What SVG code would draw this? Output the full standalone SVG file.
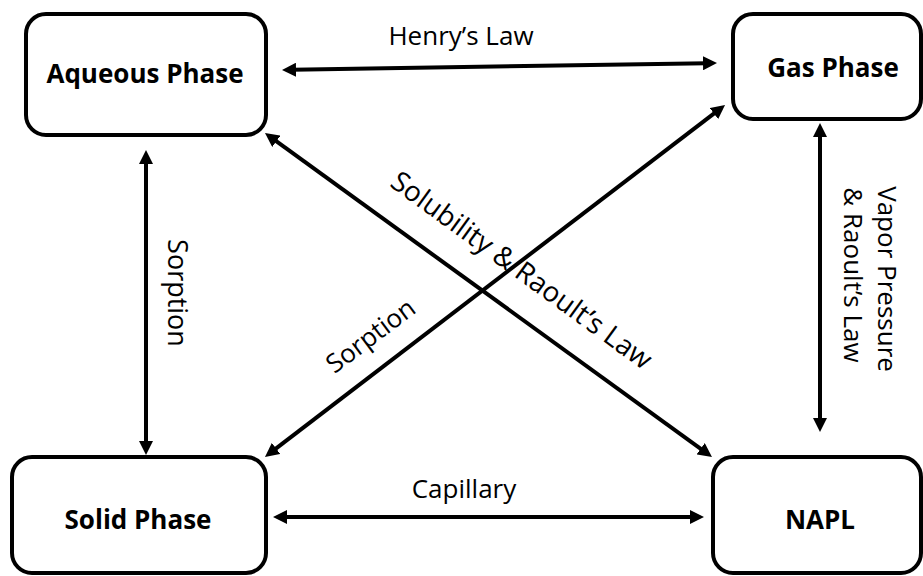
<svg xmlns="http://www.w3.org/2000/svg" width="923" height="576" viewBox="0 0 923 576">
<style>
.box{fill:#fff;stroke:#000;stroke-width:4}
.title{font-family:"Open Sans","Liberation Sans",sans-serif;font-weight:bold;font-size:26px;fill:#000;text-anchor:middle}
.lbl{font-family:"Open Sans","Liberation Sans",sans-serif;font-size:26px;fill:#000;text-anchor:middle}
.conn{stroke:#000;stroke-width:4;fill:none;marker-start:url(#ah);marker-end:url(#ah)}
</style>
<defs>
<marker id="ah" markerUnits="userSpaceOnUse" viewBox="0 0 14 14" markerWidth="14" markerHeight="14" refX="4" refY="7" orient="auto-start-reverse">
<path d="M0,0 L14,7 L0,14 z" fill="#000"/>
</marker>
</defs>
<rect width="923" height="576" fill="#fff"/>
<g id="connectors">
<line class="conn" x1="292" y1="69.8" x2="707" y2="63.2"/>
<line class="conn" x1="283" y1="517" x2="694" y2="517"/>
<line class="conn" x1="146" y1="160" x2="146" y2="445"/>
<line class="conn" x1="820" y1="133" x2="820" y2="422"/>
<line class="conn" x1="273.1" y1="138.9" x2="703.9" y2="451.1"/>
<line class="conn" x1="272.9" y1="450.9" x2="717.1" y2="111.1"/>
</g>
<g id="aqueous">
<rect class="box" x="26" y="14" width="240" height="121" rx="20"/>
<text class="title" x="145" y="83">Aqueous Phase</text>
</g>
<g id="gas">
<rect class="box" x="733" y="14" width="188" height="105" rx="20"/>
<text class="title" x="833" y="77">Gas Phase</text>
</g>
<g id="solid">
<rect class="box" x="12" y="457" width="254" height="116" rx="20"/>
<text class="title" x="138" y="529">Solid Phase</text>
</g>
<g id="napl">
<rect class="box" x="713" y="457" width="208" height="116" rx="20"/>
<text class="title" x="820" y="529">NAPL</text>
</g>
<g id="labels">
<text class="lbl" x="461" y="45">Henry’s Law</text>
<text class="lbl" x="464" y="498">Capillary</text>
<text class="lbl" style="font-size:27px" transform="translate(168,293) rotate(90)">Sorption</text>
<text class="lbl" transform="translate(878,279) rotate(90)">Vapor Pressure</text>
<text class="lbl" transform="translate(844,275) rotate(90)">&amp; Raoult’s Law</text>
<text class="lbl" style="font-size:28px" transform="translate(516,278) rotate(36)">Solubility &amp; Raoult’s Law</text>
<text class="lbl" transform="translate(376,343) rotate(-37)">Sorption</text>
</g>
</svg>
